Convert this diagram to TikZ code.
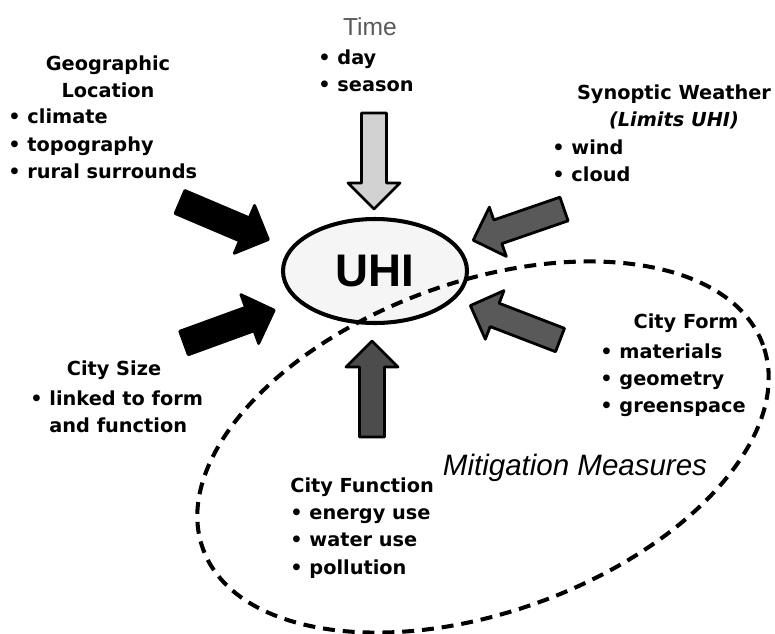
\documentclass[tikz,border=0pt]{standalone}
\usepackage{fontspec}
\setmainfont{DejaVu Sans}
\newfontfamily\helv{Liberation Sans}
\usetikzlibrary{positioning}

\tikzset{
  blockarrow/.pic={
    \draw[pic actions,line width=1.6pt,line join=round]
      (0,-12.5) -- (70,-12.5) -- (70,-26) -- (96,0) -- (70,26) -- (70,12.5) -- (0,12.5) -- cycle;
  },
}

\begin{document}
\begin{tikzpicture}[x=0.02cm,y=0.02cm,
  lbl/.style={font=\bfseries\fontsize{11}{15.5}\selectfont,align=left,inner sep=0pt},
  ttl/.style={lbl,align=center},
  mitig/.style={line width=2.3pt,dash pattern=on 6.8pt off 4.5pt}]
  \useasboundingbox (0,0) rectangle (775,-633);

  \coordinate (uhic) at (375,-271);
  \coordinate (mitc) at (483,-447);
  \draw[line width=2.3pt,fill=gray!8] (uhic) ellipse [x radius=92, y radius=52];
  \draw[mitig,rotate around={20:(mitc)}] (mitc) ellipse [x radius=298, y radius=165];
  \node (uhi) at (uhic) [font=\helv\bfseries\fontsize{26}{30}\selectfont] {UHI};

  \node (timettl) at (370,-27) [font=\helv\fontsize{14}{16}\selectfont,text=black!65] {Time};
  \node (timelist) [lbl,anchor=west] at (318,-71) {• day\\• season};
  \node (geottl) [ttl] at (108,-77) {Geographic\\Location};
  \node (geolist) [lbl,anchor=west] at (8,-144) {• climate\\• topography\\• rural surrounds};
  \node (synttl) [ttl] at (674,-107) {Synoptic Weather\\\textit{(Limits UHI)}};
  \node (synlist) [lbl,anchor=west] at (552,-161) {• wind\\• cloud};
  \node (formttl) [ttl] at (686,-323) {City Form};
  \node (formlist) [lbl,anchor=west] at (600,-380) {• materials\\• geometry\\• greenspace};
  \node (sizettl) [ttl] at (114,-370) {City Size};
  \node (sizelist) [lbl,anchor=west] at (30,-412) {• linked to form\\\hphantom{• }and function};
  \node (funclist) [lbl,anchor=west] at (290,-528) {City Function\\• energy use\\• water use\\• pollution};
  \node (mitlbl) at (575,-468) [font=\helv\itshape\fontsize{16.8}{20}\selectfont] {Mitigation Measures};

  \pic[fill=gray!35,rotate=-90] at (374,-113) {blockarrow};
  \pic[fill=black,rotate=-23] at (180,-202) {blockarrow};
  \pic[fill=black,rotate=20] at (184,-343) {blockarrow};
  \pic[fill=black!65,rotate=199] at (564,-209) {blockarrow};
  \pic[fill=black!65,rotate=159] at (560,-340) {blockarrow};
  \pic[fill=black!70,rotate=90] at (372,-437) {blockarrow};
\end{tikzpicture}
\end{document}
